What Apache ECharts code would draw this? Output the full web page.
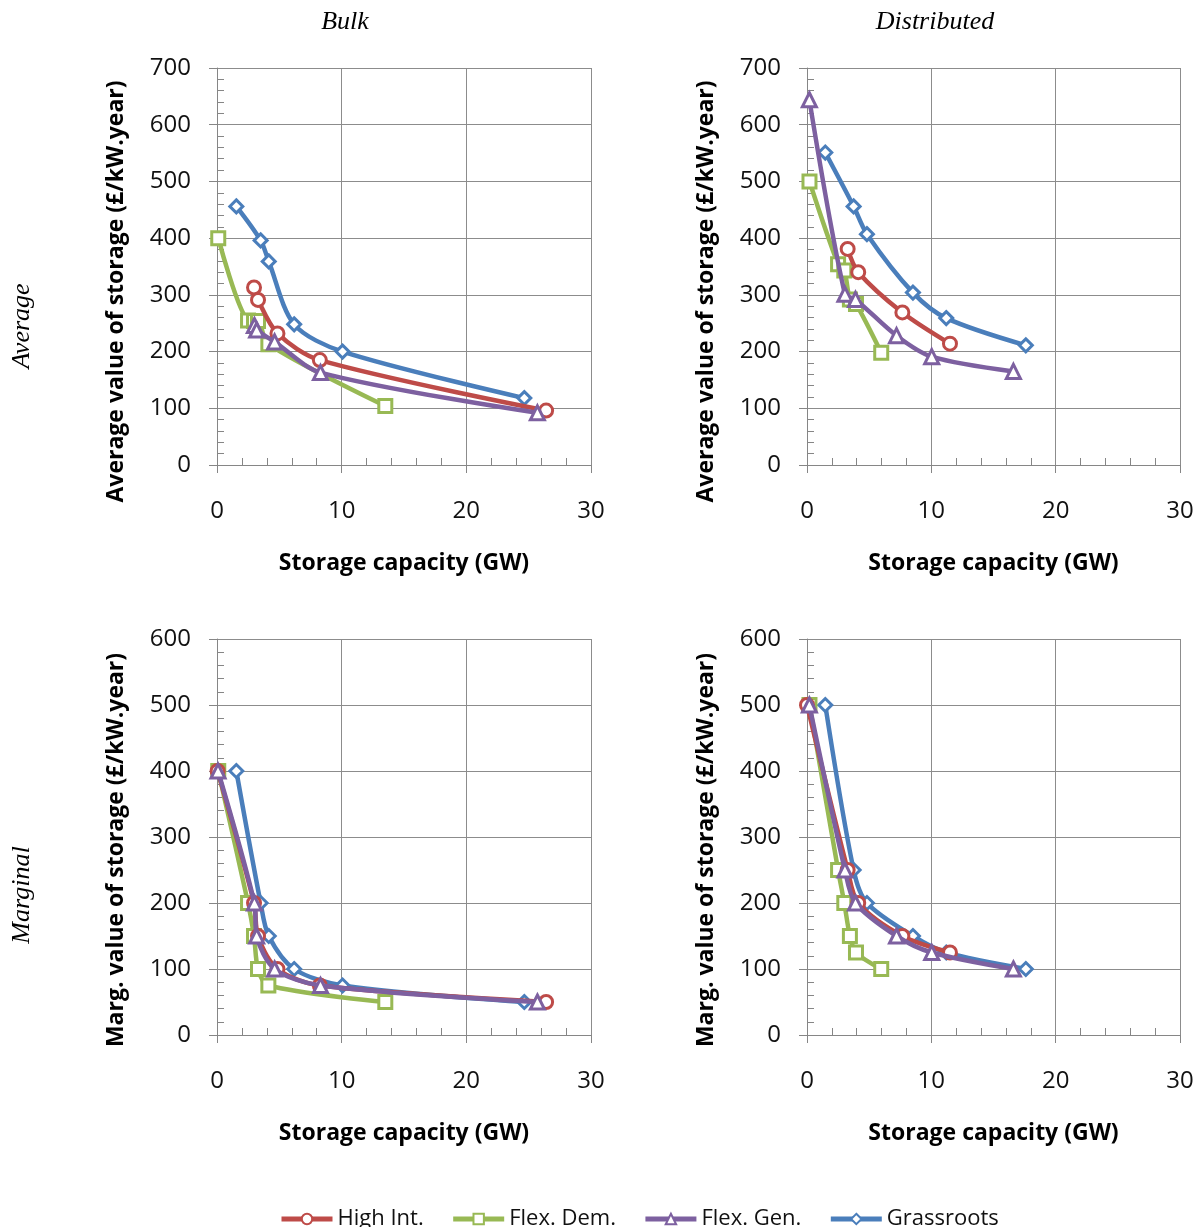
<!DOCTYPE html>
<html>
<head>
<meta charset="utf-8">
<script src="https://cdn.jsdelivr.net/npm/echarts@6/dist/echarts.min.js"></script>
<style>
html,body{margin:0;padding:0;background:#fff;}
#chart{width:1203px;height:1227px;}
</style>
</head>
<body>
<div id="chart"></div>
<script>
// ---- Data ----
const seriesNames = ['High Int.', 'Flex. Dem.', 'Flex. Gen.', 'Grassroots'];
const xTicks = [0, 10, 20, 30];
const avgTicks = [0, 100, 200, 300, 400, 500, 600, 700];
const margTicks = [0, 100, 200, 300, 400, 500, 600];

// Bulk storage capacity (GW)
const bulkCapHighInt = [0.05, 2.97, 3.29, 4.85, 8.25, 26.4];
const bulkCapFlexDem = [0.1, 2.49, 2.97, 3.29, 4.12, 13.5];
const bulkCapFlexGen = [0.08, 3.0, 3.18, 4.62, 8.3, 25.7];
const bulkCapGrass   = [1.55, 3.5, 4.15, 6.19, 10.07, 24.65];
// Bulk average value (£/kW.year)
const bulkAvgHighInt = [null, 313, 291, 232, 185, 96];
const bulkAvgFlexDem = [400, 255, 254, 254, 213, 104];
const bulkAvgFlexGen = [null, 246, 238, 217, 163, 92];
const bulkAvgGrass   = [456, 396, 359, 248, 200, 118];
// Bulk marginal value (£/kW.year)
const bulkMargHighInt = [400, 200, 150, 100, 75, 50];
const bulkMargFlexDem = [400, 200, 150, 100, 75, 50];
const bulkMargFlexGen = [400, 200, 150, 100, 75, 50];
const bulkMargGrass   = [400, 200, 150, 100, 75, 50];

// Distributed storage capacity (GW)
const distCapHighInt = [0.0, 3.27, 4.12, 7.67, 11.5];
const distCapFlexDem = [0.2, 2.5, 3.0, 3.45, 3.94, 5.97];
const distCapFlexGen = [0.19, 3.05, 3.9, 7.2, 10.03, 16.6];
const distCapGrass   = [1.47, 3.75, 4.82, 8.52, 11.2, 17.6];
// Distributed average value
const distAvgHighInt = [null, 381, 340, 269, 214];
const distAvgFlexDem = [500, 354, 343, 292, 284, 198];
const distAvgFlexGen = [644, 301, 292, 228, 191, 165];
const distAvgGrass   = [551, 456, 407, 304, 259, 211];
// Distributed marginal value
const distMargHighInt = [500, 250, 200, 150, 125];
const distMargFlexDem = [500, 250, 200, 150, 125, 100];
const distMargFlexGen = [500, 250, 200, 150, 125, 100];
const distMargGrass   = [500, 250, 200, 150, 125, 100];

// ---- Styling ----
const colors = ['#BE4B48', '#98B954', '#7D60A0', '#4A7EBB'];
const symbols = ['circle', 'rect', 'triangle', 'diamond'];
const symbolSizes = [13, 13, 14, 13];
const zOrder = [4, 3, 5, 2];
const FONT = '"Open Sans", "Noto Sans", sans-serif';

function pairs(xs, ys) {
  const out = [];
  for (let i = 0; i < xs.length; i++) {
    if (ys[i] !== null && ys[i] !== undefined) out.push([xs[i], ys[i]]);
  }
  return out;
}

const panels = [
  { caps: [bulkCapHighInt, bulkCapFlexDem, bulkCapFlexGen, bulkCapGrass],
    vals: [bulkAvgHighInt, bulkAvgFlexDem, bulkAvgFlexGen, bulkAvgGrass] },
  { caps: [distCapHighInt, distCapFlexDem, distCapFlexGen, distCapGrass],
    vals: [distAvgHighInt, distAvgFlexDem, distAvgFlexGen, distAvgGrass] },
  { caps: [bulkCapHighInt, bulkCapFlexDem, bulkCapFlexGen, bulkCapGrass],
    vals: [bulkMargHighInt, bulkMargFlexDem, bulkMargFlexGen, bulkMargGrass] },
  { caps: [distCapHighInt, distCapFlexDem, distCapFlexGen, distCapGrass],
    vals: [distMargHighInt, distMargFlexDem, distMargFlexGen, distMargGrass] }
];

const grids = [
  { left: 217, top: 68, width: 374, height: 397 },
  { left: 807, top: 68, width: 373, height: 397 },
  { left: 217, top: 639, width: 374, height: 396 },
  { left: 807, top: 639, width: 373, height: 396 }
].map(g => Object.assign({ outerBoundsMode: 'none', containLabel: false }, g));

const axisGray = '#868686';

const xAxes = grids.map((g, i) => ({
  type: 'value', gridIndex: i,
  min: xTicks[0], max: xTicks[xTicks.length - 1], interval: xTicks[1] - xTicks[0],
  name: 'Storage capacity (GW)', nameLocation: 'middle', nameGap: 87,
  nameTextStyle: { fontFamily: FONT, fontWeight: 'bold', fontSize: 23, color: '#000' },
  axisLine: { show: true, lineStyle: { color: axisGray, width: 1 } },
  axisTick: { show: true, length: 8, lineStyle: { color: axisGray } },
  minorTick: { show: true, splitNumber: 5, length: -7, lineStyle: { color: axisGray } },
  axisLabel: { fontFamily: FONT, fontSize: 24, color: '#111', margin: 34 },
  splitLine: { show: true, lineStyle: { color: '#8c8c8c', width: 1 } }
}));

const yAxes = grids.map((g, i) => {
  const ticks = i < 2 ? avgTicks : margTicks;
  return {
    type: 'value', gridIndex: i,
    min: ticks[0], max: ticks[ticks.length - 1], interval: ticks[1] - ticks[0],
    name: i < 2 ? 'Average value of storage (£/kW.year)' : 'Marg. value of storage (£/kW.year)',
    nameLocation: 'middle', nameGap: 89,
    nameTextStyle: { fontFamily: FONT, fontWeight: 'bold', fontSize: 23, color: '#000',
      padding: i < 2 ? [0, 50, 0, 0] : [0, 26, 0, 0] },
    axisLine: { show: true, lineStyle: { color: axisGray, width: 1 } },
    axisTick: { show: true, length: 8, lineStyle: { color: axisGray } },
    minorTick: { show: true, splitNumber: 5, length: -7, lineStyle: { color: axisGray } },
    axisLabel: { fontFamily: FONT, fontSize: 24, color: '#111', margin: 26 },
    splitLine: { show: true, lineStyle: { color: '#8c8c8c', width: 1 } }
  };
});

const series = [];
panels.forEach((p, pi) => {
  seriesNames.forEach((name, si) => {
    series.push({
      name: name, type: 'line', xAxisIndex: pi, yAxisIndex: pi,
      data: pairs(p.caps[si], p.vals[si]),
      smooth: 0.3,
      symbol: symbols[si], symbolSize: symbolSizes[si],
      showAllSymbol: true,
      z: zOrder[si],
      lineStyle: { color: colors[si], width: 4.5 },
      itemStyle: { color: '#fff', borderColor: colors[si], borderWidth: 3 },
      emphasis: { disabled: true },
      animation: false
    });
  });
});

const option = {
  animation: false,
  backgroundColor: '#fff',
  grid: grids,
  xAxis: xAxes,
  yAxis: yAxes,
  legend: {
    data: seriesNames, top: 1203, left: 274,
    itemWidth: 51, itemHeight: 13, itemGap: 27,
    lineStyle: { width: 5 },
    itemStyle: { borderWidth: 2 },
    textStyle: { fontFamily: FONT, fontSize: 22, color: '#111' },
    selectedMode: false
  },
  graphic: [
    { type: 'text', x: 345, y: 22, style: { text: 'Bulk', font: 'italic 26px "Liberation Serif", serif', fill: '#000', textAlign: 'center', textVerticalAlign: 'middle' } },
    { type: 'text', x: 935, y: 22, style: { text: 'Distributed', font: 'italic 26px "Liberation Serif", serif', fill: '#000', textAlign: 'center', textVerticalAlign: 'middle' } },
    { type: 'text', x: 22, y: 326, rotation: Math.PI / 2, style: { text: 'Average', font: 'italic 26px "Liberation Serif", serif', fill: '#000', textAlign: 'center', textVerticalAlign: 'middle' } },
    { type: 'text', x: 22, y: 895, rotation: Math.PI / 2, style: { text: 'Marginal', font: 'italic 26px "Liberation Serif", serif', fill: '#000', textAlign: 'center', textVerticalAlign: 'middle' } }
  ],
  series: series
};

const chart = echarts.init(document.getElementById('chart'), null, { renderer: 'canvas' });
chart.setOption(option);
</script>
</body>
</html>
